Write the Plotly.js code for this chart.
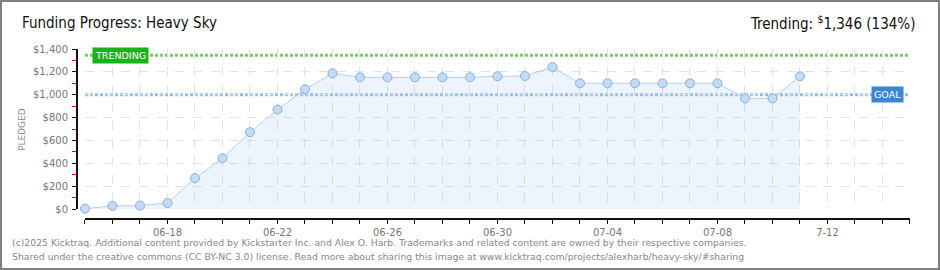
<!DOCTYPE html>
<html>
<head>
<meta charset="utf-8">
<script src="https://cdn.plot.ly/plotly-3.0.1.min.js"></script>
<style>
  html, body { margin: 0; padding: 0; background: #fff; }
  #wrap { position: relative; width: 940px; height: 270px; }
  #chart { width: 940px; height: 270px; }
  #frame { position: absolute; left: 0; top: 0; width: 940px; height: 270px; box-sizing: border-box; border: 2px solid #808080; pointer-events: none; }
</style>
</head>
<body>
<div id="wrap"><div id="chart"></div><div id="frame"></div></div>
<script>
// ---- data ----
const dates = [
  '2025-06-15','2025-06-16','2025-06-17','2025-06-18','2025-06-19','2025-06-20','2025-06-21',
  '2025-06-22','2025-06-23','2025-06-24','2025-06-25','2025-06-26','2025-06-27','2025-06-28',
  '2025-06-29','2025-06-30','2025-07-01','2025-07-02','2025-07-03','2025-07-04','2025-07-05',
  '2025-07-06','2025-07-07','2025-07-08','2025-07-09','2025-07-10','2025-07-11'
];
const pledged = [
  3, 27, 30, 52, 270, 445, 672,
  870, 1047, 1187, 1152, 1152, 1152, 1152,
  1152, 1161, 1164, 1242, 1100, 1100, 1100,
  1100, 1100, 1100, 968, 968, 1161
];
const goal = 1000;
const trending = 1346;
const trendingPct = 134;
const axisStart = '2025-06-15';
const axisEnd = '2025-07-15';
const labelDays = ['2025-06-18','2025-06-22','2025-06-26','2025-06-30','2025-07-04','2025-07-08','2025-07-12'];
const labelText = ['06-18','06-22','06-26','06-30','07-04','07-08','7-12'];
const DAY = 86400000;

const trace = {
  x: dates, y: pledged, type: 'scatter', mode: 'lines+markers',
  fill: 'tozeroy', fillcolor: 'rgba(170,200,245,0.2)',
  line: { color: '#b5d0ee', width: 1 },
  marker: { size: 9, color: '#c3dbf5', line: { color: '#8aaed6', width: 1 } },
  cliponaxis: false,
  hoverinfo: 'x+y'
};

const tickFont = { family: 'DejaVu Sans', size: 10, color: '#777' };
const footFont = { family: 'DejaVu Sans', size: 9.3, color: '#888' };
const headFont = { family: 'DejaVu Sans Condensed, DejaVu Sans', size: 15, color: '#111' };

const layout = {
  width: 940, height: 270,
  margin: { l: 77, r: 30, t: 49, b: 51 },
  paper_bgcolor: '#fff', plot_bgcolor: 'rgba(0,0,0,0)',
  showlegend: false,
  xaxis: {
    type: 'date', domain: [0.0096, 1], range: [axisStart, axisEnd],
    anchor: 'free', position: 0,
    tickmode: 'array', tickvals: labelDays, ticktext: labelText,
    ticks: 'outside', ticklen: 4, tickwidth: 1, tickcolor: '#111',
    minor: { tickmode: 'linear', tick0: axisStart, dtick: DAY, ticks: 'outside', ticklen: 4, tickwidth: 1, tickcolor: '#111',
             showgrid: true, gridcolor: '#e2e2e2', griddash: 'dash', gridwidth: 1 },
    showline: true, linecolor: '#111', linewidth: 2,
    showgrid: true, gridcolor: '#e2e2e2', griddash: 'dash', gridwidth: 1,
    zeroline: false, tickfont: tickFont, fixedrange: true
  },
  yaxis: {
    domain: [0.0588, 1], range: [0, 1400],
    anchor: 'free', position: 0,
    dtick: 200, tick0: 0, tickformat: ',d', tickprefix: '$',
    ticks: 'outside', ticklen: 4, tickwidth: 1, tickcolor: '#111',
    minor: { tickmode: 'linear', tick0: 0, dtick: 100, ticks: 'outside', ticklen: 4, tickcolor: '#e00000', tickwidth: 1, showgrid: false },
    showline: true, linecolor: '#111', linewidth: 2,
    showgrid: true, gridcolor: '#e2e2e2', griddash: 'dash', gridwidth: 1,
    zeroline: false, tickfont: tickFont, ticklabelstandoff: 2, fixedrange: true
  },
  shapes: [
    { type: 'line', xref: 'x domain', yref: 'y', x0: 0, x1: 1, y0: trending, y1: trending,
      line: { color: '#74cf62', width: 3, dash: '3px,2px' }, layer: 'below' },
    { type: 'line', xref: 'x domain', yref: 'y', x0: 0, x1: 1, y0: goal, y1: goal,
      line: { color: '#92bde9', width: 3, dash: '3px,2px' }, layer: 'below' }
  ],
  annotations: [
    { text: 'Funding Progress: Heavy Sky', xref: 'paper', yref: 'paper', x: -0.0685, y: 1.153,
      xanchor: 'left', yanchor: 'middle', showarrow: false, font: headFont },
    { text: 'Trending: <sup>$</sup>' + trending.toLocaleString('en-US') + ' (' + trendingPct + '%)',
      xref: 'paper', yref: 'paper', x: 1.0085, y: 1.153,
      xanchor: 'right', yanchor: 'middle', showarrow: false, font: headFont },
    { text: 'TRENDING', xref: 'paper', yref: 'y', x: 0.0522, y: trending,
      xanchor: 'center', yanchor: 'middle', showarrow: false,
      bgcolor: '#1cb01c', borderpad: 2, font: { family: 'DejaVu Sans', size: 9.5, color: '#fff' } },
    { text: 'GOAL', xref: 'paper', yref: 'y', x: 0.973, y: goal,
      xanchor: 'center', yanchor: 'middle', showarrow: false,
      bgcolor: '#3a86d6', borderpad: 2, font: { family: 'DejaVu Sans', size: 9.5, color: '#fff' } },
    { text: 'PLEDGED', xref: 'paper', yref: 'paper', x: -0.066, y: 0.5235,
      xanchor: 'center', yanchor: 'middle', showarrow: false, textangle: -90,
      font: { family: 'DejaVu Sans', size: 9, color: '#888' } },
    { text: '(c)2025 Kicktraq. Additional content provided by Kickstarter Inc. and Alex O. Harb. Trademarks and related content are owned by their respective companies.',
      xref: 'paper', yref: 'paper', x: -0.0804, y: -0.141, xanchor: 'left', yanchor: 'middle',
      showarrow: false, font: footFont },
    { text: 'Shared under the creative commons (CC BY-NC 3.0) license. Read more about sharing this image at www.kicktraq.com/projects/alexharb/heavy-sky/#sharing',
      xref: 'paper', yref: 'paper', x: -0.0804, y: -0.218, xanchor: 'left', yanchor: 'middle',
      showarrow: false, font: footFont }
  ]
};

Plotly.newPlot('chart', [trace], layout, { displayModeBar: false, staticPlot: true });
</script>
</body>
</html>
